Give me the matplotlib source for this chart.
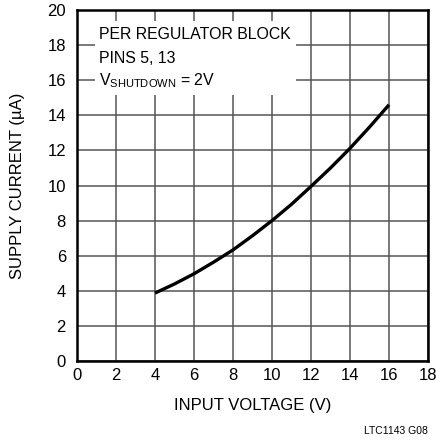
import matplotlib.pyplot as plt
from matplotlib.patches import Rectangle

# supply current vs input voltage
vin = [4, 5, 6, 7, 8, 9, 10, 11, 12, 13, 14, 15, 16]
isupply = [3.87, 4.39, 4.97, 5.63, 6.33, 7.14, 8.0, 8.93, 9.95, 11.0, 12.12, 13.33, 14.6]

xticks = [0, 2, 4, 6, 8, 10, 12, 14, 16, 18]
yticks = [0, 2, 4, 6, 8, 10, 12, 14, 16, 18, 20]

plt.rcParams['font.family'] = ['Liberation Sans', 'DejaVu Sans']

fig = plt.figure(figsize=(4.36, 4.47), dpi=100)
ax = fig.add_axes([0.1766, 0.1924, 0.8051, 0.7852])

ax.plot(vin, isupply, color='black', lw=2.4, solid_capstyle='butt', zorder=3)

ax.set_xlim(0, 18)
ax.set_ylim(0, 20)
ax.set_xticks(xticks)
ax.set_yticks(yticks)
ax.tick_params(length=0, labelsize=12)
ax.tick_params(axis='y', pad=8)
ax.tick_params(axis='x', pad=5)
ax.grid(True, color='#555555', lw=1.1)
ax.set_axisbelow(True)
for s in ax.spines.values():
    s.set_linewidth(1.8)

ax.set_xlabel('INPUT VOLTAGE (V)', fontsize=12, labelpad=11)
ax.set_ylabel('SUPPLY CURRENT (\u00b5A)', fontsize=12, labelpad=16)

# white panel behind the note
ax.add_patch(Rectangle((0.92, 15.15), 10.3, 4.25, facecolor='white', edgecolor='none', zorder=2))
ax.text(1.15, 18.6, 'PER REGULATOR BLOCK', fontsize=11.4, va='center', zorder=4)
ax.text(1.15, 17.25, 'PINS 5, 13', fontsize=11.4, va='center', zorder=4)
ax.text(1.15, 15.95, 'V$_{\\mathregular{SHUTDOWN}}$ = 2V', fontsize=11.4, va='center', zorder=4)

fig.text(0.982, 0.025, 'LTC1143 G08', fontsize=7.5, ha='right', va='bottom')

fig.savefig('out.png', dpi=100)
